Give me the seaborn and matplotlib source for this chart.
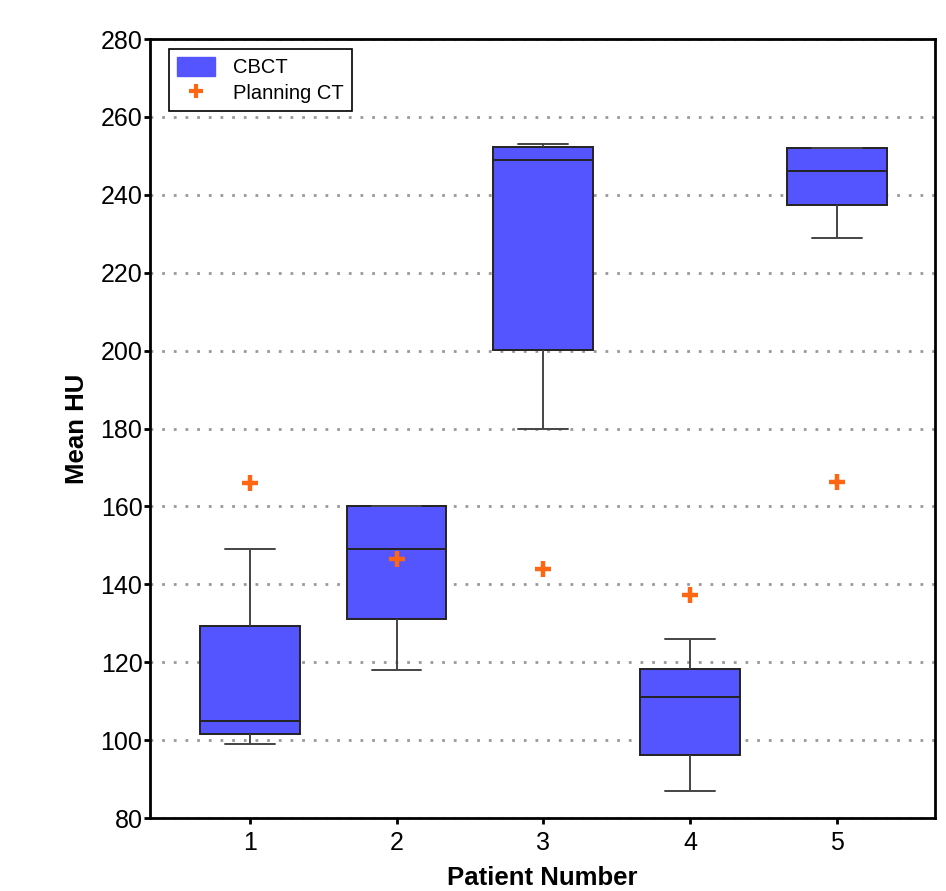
import pandas as pd
import seaborn as sns
import matplotlib.pyplot as plt
from matplotlib.patches import Patch
from matplotlib.lines import Line2D

# --------------------------- DATA ---------------------------
patients = ["1", "2", "3", "4", "5"]
# five-number summaries of CBCT mean HU per patient (min, q1, median, q3, max)
cbct_min = [99, 118, 180, 87, 229]
cbct_q1 = [101.5, 131.2, 200.2, 96.2, 237.3]
cbct_med = [105, 149, 249, 111, 246]
cbct_q3 = [129.4, 160, 252.3, 118.3, 251.9]
cbct_max = [149, 160, 253, 126, 251.9]
planning_ct = [166, 146.5, 144, 137.3, 166.3]

box_color = "#5555FF"
ct_color = "#FF6611"

cbct_df = pd.DataFrame({
    "Patient": patients * 5,
    "HU": cbct_min + cbct_q1 + cbct_med + cbct_q3 + cbct_max,
})
ct_df = pd.DataFrame({"Patient": patients, "HU": planning_ct})

# --------------------------- PLOT ---------------------------
sns.set_style("white")
plt.rcParams["font.family"] = ["Liberation Sans", "DejaVu Sans"]
plt.rcParams["text.color"] = "black"
plt.rcParams["axes.labelcolor"] = "black"
plt.rcParams["xtick.color"] = "black"
plt.rcParams["ytick.color"] = "black"

fig, ax = plt.subplots(figsize=(9.46, 8.91), dpi=100)
fig.subplots_adjust(left=0.1586, right=0.9884, top=0.9562, bottom=0.0819)

ax.yaxis.grid(True, linestyle=(0, (1, 3.2)), linewidth=2, color="#999999")
ax.set_axisbelow(True)

sns.boxplot(
    data=cbct_df, x="Patient", y="HU", order=patients,
    color=box_color, saturation=1, width=0.68, whis=(0, 100),
    linecolor="#222222", linewidth=1.4, showfliers=False, ax=ax,
    whiskerprops={"color": "#444444"}, capprops={"color": "#444444"},
)
sns.pointplot(
    data=ct_df, x="Patient", y="HU", order=patients,
    color=ct_color, linestyle="none", marker="+", markersize=11,
    markeredgewidth=3.2, errorbar=None, ax=ax,
)

ax.set_ylim(80, 280)
ax.set_yticks(range(80, 281, 20))
ax.set_xlim(-0.68, 4.67)

for side in ["left", "right", "top", "bottom"]:
    ax.spines[side].set_visible(True)
    ax.spines[side].set_color("black")
    ax.spines[side].set_linewidth(2)
ax.tick_params(axis="both", direction="out", length=4.5, width=2, labelsize=18,
               left=True, bottom=True)
ax.tick_params(axis="y", pad=1)
ax.tick_params(axis="x", pad=4.5)

ax.set_ylabel("Mean HU", fontsize=18.5, fontweight="bold", labelpad=8)
ax.set_xlabel("Patient Number", fontsize=18.5, fontweight="bold", labelpad=8.5)

handles = [
    Patch(facecolor=box_color, edgecolor=box_color),
    Line2D([], [], linestyle="none", marker="+", color=ct_color,
           markersize=10, markeredgewidth=3),
]
leg = ax.legend(handles, ["CBCT", "Planning CT"], loc="upper left",
                bbox_to_anchor=(0.0242, 0.987), borderaxespad=0,
                fontsize=14.5, frameon=True, fancybox=False,
                edgecolor="black", framealpha=1,
                handlelength=1.9, handleheight=1.05, borderpad=0.4,
                handletextpad=0.9, labelspacing=0.25)
leg.get_frame().set_linewidth(1.2)

plt.savefig("out.png", dpi=100)
